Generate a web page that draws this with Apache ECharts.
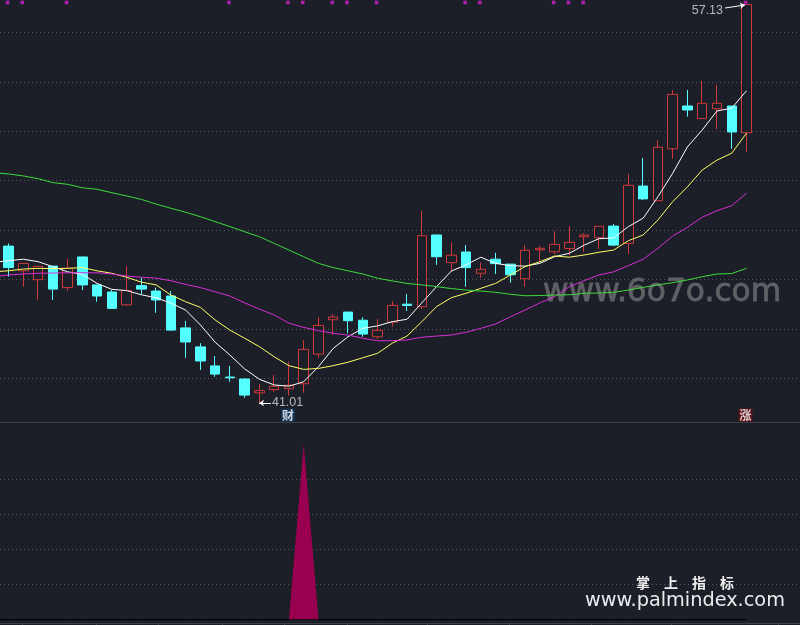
<!DOCTYPE html>
<html>
<head>
<meta charset="utf-8">
<title>K线</title>
<script src="https://cdn.jsdelivr.net/npm/echarts@6/dist/echarts.min.js"></script>
<style>
html, body { margin: 0; padding: 0; background: #1c1f27; }
#chart { width: 800px; height: 625px; }
</style>
</head>
<body>
<div id="chart"></div>
<script>
// candles, oldest first
var opens = [47.35,46.35,45.99,46.54,45.67,46.91,45.78,45.49,44.97,45.75,45.53,45.33,44.04,43.27,42.50,42.05,41.97,41.41,41.54,41.58,41.78,42.98,44.37,44.68,44.35,43.68,44.27,45.00,44.90,47.80,46.68,47.11,46.25,46.82,46.62,46.03,47.20,47.12,47.25,47.73,47.69,48.16,47.46,49.78,49.19,51.29,53.02,52.51,52.91,53.02,51.94];
var closes = [46.48,46.65,46.53,45.61,46.45,45.78,45.33,44.83,45.55,45.61,45.17,43.95,43.47,42.70,42.17,42.02,41.32,41.50,41.68,41.72,43.17,44.14,44.48,44.33,43.79,43.94,44.95,44.95,47.77,46.92,46.98,46.48,46.41,46.64,46.19,47.18,47.26,47.42,47.50,47.80,48.15,47.39,49.81,49.26,51.35,53.49,52.86,53.13,53.13,51.97,57.13];
var lows = [46.11,45.71,45.17,45.17,45.55,45.57,45.10,44.83,44.93,45.41,44.65,43.93,42.83,42.34,42.06,41.86,41.21,41.01,41.46,41.30,41.42,42.83,43.76,43.82,43.68,43.59,44.09,44.72,44.80,46.59,46.35,45.71,46.07,46.22,45.87,45.71,46.65,47.03,46.99,47.12,47.23,47.35,47.03,49.22,49.19,50.89,52.59,52.51,52.09,51.29,51.16];
var highs = [47.46,46.65,46.53,46.54,46.83,46.91,45.78,45.57,46.54,46.07,45.67,45.53,44.32,43.42,42.90,42.50,42.00,41.77,42.13,42.67,43.55,44.47,44.60,44.68,44.47,44.39,45.12,45.41,48.77,47.80,47.50,47.39,46.69,47.08,46.62,47.39,47.35,47.96,48.16,47.87,48.15,48.24,50.27,50.92,51.64,53.67,53.67,54.03,53.87,53.02,57.13];

// moving averages, first value is the bar just off the left edge (index -1)
var ma5 = [46.69,46.76,46.82,46.72,46.52,46.31,46.21,45.84,45.60,45.55,45.38,45.26,45.04,44.76,44.16,43.46,42.94,42.38,41.96,41.73,41.68,41.86,42.47,43.21,43.68,44.02,44.12,44.29,44.39,45.05,45.71,46.34,46.59,46.90,46.65,46.56,46.54,46.65,46.92,47.06,47.39,47.65,47.68,48.14,48.48,49.35,50.30,51.37,52.05,52.82,52.93,53.64];
var ma10 = [46.31,46.35,46.42,46.45,46.44,46.45,46.48,46.35,46.25,46.09,45.89,45.78,45.37,45.10,44.87,44.36,43.95,43.62,43.28,42.87,42.51,42.36,42.40,42.51,42.65,42.83,43.01,43.42,43.71,44.29,44.90,45.26,45.44,45.64,45.84,46.18,46.52,46.72,46.95,46.90,46.99,47.10,47.19,47.57,47.80,48.41,49.15,49.75,50.43,50.83,51.11,51.92];
var ma30 = [46.11,46.18,46.22,46.25,46.26,46.27,46.27,46.27,46.22,46.14,46.09,46.05,45.95,45.80,45.67,45.50,45.33,45.05,44.80,44.56,44.23,44.06,43.93,43.82,43.75,43.62,43.52,43.52,43.55,43.66,43.71,43.75,43.86,44.02,44.20,44.49,44.76,45.05,45.30,45.71,45.95,46.18,46.31,46.56,46.82,47.26,47.76,48.11,48.52,48.78,48.99,49.49];
var ma60 = [50.32,50.27,50.19,50.08,49.92,49.85,49.71,49.65,49.51,49.38,49.24,49.05,48.88,48.72,48.54,48.34,48.14,47.93,47.73,47.46,47.19,46.92,46.65,46.48,46.35,46.22,46.05,45.94,45.84,45.78,45.71,45.63,45.57,45.53,45.48,45.40,45.34,45.35,45.37,45.38,45.44,45.45,45.48,45.57,45.68,45.78,45.87,45.98,46.11,46.22,46.24,46.45];

// bars that carry a signal square along the top
var signalBars = [0,1,4,15,19,20,22,23,25,31,32,37,38,39,50];
var signalLevel = 57.21;

// lower panel: one spike
var spikeBars = [19,20,21];
var spikeValues = [0,5,0];

var lowBar = 17, lowPrice = 41.01;
var highBar = 50, highPrice = 57.13;
var caiBar = 19, zhangBar = 50, tagLevel = 40.51;

var footTicks = [22,96,158,222,284,347,427,509,591,671,778];

var bg = '#1c1f27';
var gridColor = '#54575f';

// the x axis counts bars; 14.76 px per bar, bar 0 sits at x = 8.5
var barMin = -0.576, barMax = 53.42;

function candleData() {
	var out = [];
	for (var i = 0; i < opens.length; i++) out.push([i, opens[i], closes[i], lows[i], highs[i]]);
	return out;
}
function indexed(values) {
	var out = [];
	for (var i = 0; i < values.length; i++) out.push([i - 1, values[i]]);
	return out;
}
function zeroLine() {
	var out = [];
	for (var i = -1; i < opens.length; i++) out.push([i, 0]);
	return out;
}
function spikeData() {
	var out = [];
	for (var k = 0; k < spikeBars.length; k++) out.push([spikeBars[k], spikeValues[k]]);
	return out;
}
function maSeries(name, values, color) {
	return {
		name: name, type: 'line', data: indexed(values), xAxisIndex: 0, yAxisIndex: 0,
		showSymbol: false, symbol: 'none', silent: true,
		lineStyle: { color: color, width: 1 }, z: 4
	};
}
function tag(bar, text, back) {
	return {
		value: [bar, tagLevel],
		label: {
			show: true, position: 'inside', offset: [-1, 0], formatter: text,
			fontFamily: 'Noto Sans CJK SC', fontSize: 12, fontWeight: 'bold', lineHeight: 13,
			color: '#ffffff', backgroundColor: back, padding: [0, 1]
		}
	};
}

var graphicItems = [
	{ type: 'rect', shape: { x: 0, y: 422, width: 800, height: 1 }, style: { fill: '#3d4049' }, silent: true },
	{ type: 'rect', shape: { x: 0, y: 623, width: 800, height: 1 }, style: { fill: '#3d4049' }, silent: true },
	{ type: 'text', x: 543, y: 277, z: 1, silent: true, style: { text: 'www.6o7o.com', fill: '#5f6064', stroke: '#5f6064', lineWidth: 0.8, font: '31.3px "DejaVu Sans"' } },
	{ type: 'text', x: 636, y: 576, z: 6, silent: true, style: { text: '掌\u3000上\u3000指\u3000标', fill: '#f0f0f0', font: 'bold 14px "Noto Sans CJK SC"' } },
	{ type: 'text', x: 585, y: 591, z: 6, silent: true, style: { text: 'www.palmindex.com', fill: '#ececec', font: '19.3px "DejaVu Sans"' } }
];
for (var t = 0; t < footTicks.length; t++) {
	graphicItems.push({ type: 'rect', shape: { x: footTicks[t], y: 623, width: 1, height: 2 }, style: { fill: '#3d4049' }, silent: true });
}

var topSignals = [];
for (var s = 0; s < signalBars.length; s++) topSignals.push([signalBars[s], signalLevel]);

var myChart = echarts.init(document.getElementById('chart'));
var option = {
	animation: false,
	backgroundColor: bg,
	graphic: graphicItems,
	grid: [
		{ left: 0, top: 0, width: 797, height: 427.7 },
		{ left: 0, top: 444, width: 797, height: 175.5 }
	],
	xAxis: [
		{ type: 'value', min: barMin, max: barMax, gridIndex: 0, show: false },
		{ type: 'value', min: barMin, max: barMax, gridIndex: 1, show: false }
	],
	yAxis: [
		{
			type: 'value', gridIndex: 0, min: 40, max: 57.31, interval: 2,
			axisLine: { show: false }, axisTick: { show: false }, axisLabel: { show: false },
			splitLine: { show: true, showMinLine: false, showMaxLine: false, lineStyle: { color: gridColor, width: 1, type: [1, 3] } }
		},
		{
			type: 'value', gridIndex: 1, min: 0, max: 5, interval: 1,
			axisLine: { show: false }, axisTick: { show: false }, axisLabel: { show: false },
			splitLine: { show: true, showMinLine: false, showMaxLine: false, lineStyle: { color: gridColor, width: 1, type: [1, 3] } }
		}
	],
	series: [
		{
			name: 'K', type: 'candlestick', data: candleData(), xAxisIndex: 0, yAxisIndex: 0,
			encode: { x: 0, y: [1, 2, 3, 4] },
			barWidth: 10, silent: true, z: 2,
			itemStyle: { color: bg, color0: '#54ffff', borderColor: '#d0393c', borderColor0: '#54ffff', borderWidth: 1 },
			markLine: {
				silent: true, animation: false, symbol: ['none', 'arrow'], symbolSize: 5,
				label: { show: false },
				lineStyle: { color: '#ffffff', width: 1, type: 'solid' },
				data: [
					[{ x: 725, y: 8 }, { x: 745, y: 5 }],
					[{ x: 271, y: 403 }, { x: 259, y: 403 }]
				]
			}
		},
		maSeries('MA5', ma5, '#ffffff'),
		maSeries('MA10', ma10, '#ffff66'),
		maSeries('MA30', ma30, '#d82ed8'),
		maSeries('MA60', ma60, '#3cdc3c'),
		{
			name: 'signal', type: 'scatter', data: topSignals, xAxisIndex: 0, yAxisIndex: 0,
			symbol: 'rect', symbolSize: 3.6, symbolOffset: [-1, 0], silent: true, z: 5,
			itemStyle: { color: '#d020d0' }
		},
		{
			name: 'notes', type: 'scatter', xAxisIndex: 0, yAxisIndex: 0, symbolSize: 1, silent: true, z: 6,
			itemStyle: { color: 'rgba(0,0,0,0)' },
			data: [
				{
					value: [highBar, 56.90],
					label: { show: true, position: 'left', distance: 23, formatter: String(highPrice), color: '#dcdcdc', fontFamily: 'Liberation Sans', fontSize: 12.5 }
				},
				{
					value: [lowBar, lowPrice],
					label: { show: true, position: 'right', distance: 12, formatter: String(lowPrice), color: '#dcdcdc', fontFamily: 'Liberation Sans', fontSize: 12.5 }
				},
				tag(caiBar, '财', '#0e3a60'),
				tag(zhangBar, '涨', '#6e1014')
			]
		},
		{
			name: 'zero', type: 'line', data: zeroLine(), xAxisIndex: 1, yAxisIndex: 1,
			symbol: 'none', silent: true, lineStyle: { color: '#000000', width: 1 }, z: 2
		},
		{
			name: 'spike', type: 'line', data: spikeData(), xAxisIndex: 1, yAxisIndex: 1,
			symbol: 'none', silent: true, lineStyle: { width: 0 }, areaStyle: { color: '#99004f', opacity: 1 }, z: 3
		}
	]
};
myChart.setOption(option);
</script>
</body>
</html>
